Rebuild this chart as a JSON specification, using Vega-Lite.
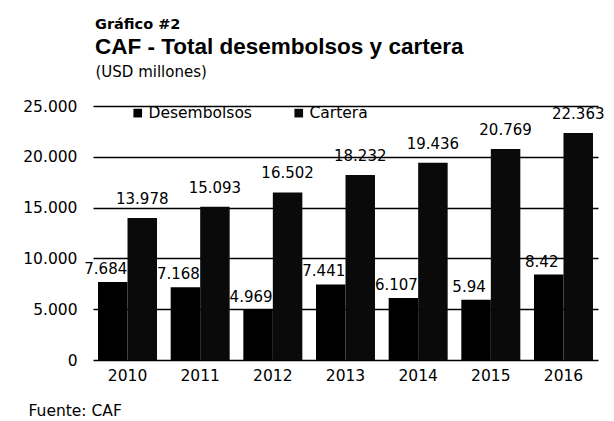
{
  "$schema": "https://vega.github.io/schema/vega-lite/v6.json",
  "width": 505,
  "height": 264,
  "autosize": {"type": "none"},
  "padding": {"left": 93, "top": 96, "right": 16, "bottom": 61},
  "background": "white",
  "title": {
    "text": "Gráfico #2",
    "subtitle": "CAF - Total desembolsos y cartera",
    "anchor": "start",
    "frame": "group",
    "dx": 2,
    "font": "DejaVu Sans",
    "fontSize": 14.5,
    "fontWeight": "bold",
    "color": "black",
    "subtitleFont": "Liberation Sans",
    "subtitleFontSize": 22.5,
    "subtitleFontWeight": "bold",
    "subtitleColor": "black",
    "subtitlePadding": 3,
    "offset": 5
  },
  "data": {
    "values": [
      {"year": "2010", "serie": "Desembolsos", "value": 7684, "label": "7.684"},
      {"year": "2011", "serie": "Desembolsos", "value": 7168, "label": "7.168"},
      {"year": "2012", "serie": "Desembolsos", "value": 4969, "label": "4.969"},
      {"year": "2013", "serie": "Desembolsos", "value": 7441, "label": "7.441"},
      {"year": "2014", "serie": "Desembolsos", "value": 6107, "label": "6.107"},
      {"year": "2015", "serie": "Desembolsos", "value": 5940, "label": "5.94"},
      {"year": "2016", "serie": "Desembolsos", "value": 8420, "label": "8.42"},
      {"year": "2010", "serie": "Cartera", "value": 13978, "label": "13.978"},
      {"year": "2011", "serie": "Cartera", "value": 15093, "label": "15.093"},
      {"year": "2012", "serie": "Cartera", "value": 16502, "label": "16.502"},
      {"year": "2013", "serie": "Cartera", "value": 18232, "label": "18.232"},
      {"year": "2014", "serie": "Cartera", "value": 19436, "label": "19.436"},
      {"year": "2015", "serie": "Cartera", "value": 20769, "label": "20.769"},
      {"year": "2016", "serie": "Cartera", "value": 22363, "label": "22.363"}
    ]
  },
  "encoding": {
    "x": {
      "field": "year", "type": "nominal",
      "scale": {"paddingInner": 0.188, "paddingOuter": 0.069},
      "axis": {
        "title": "Fuente: CAF",
        "titleAnchor": "start", "titleAlign": "left", "titleBaseline": "middle",
        "titleX": -65, "titleY": 50,
        "titleFont": "DejaVu Sans", "titleFontSize": 15.5, "titleFontWeight": "normal", "titleColor": "black",
        "labelAngle": 0, "labelFont": "DejaVu Sans", "labelFontSize": 15.5, "labelColor": "black",
        "labelPadding": 15, "labelBaseline": "middle", "ticks": false, "domain": false
      }
    },
    "xOffset": {"field": "serie", "type": "nominal", "sort": ["Desembolsos", "Cartera"]}
  },
  "layer": [
    {
      "mark": {"type": "bar"},
      "encoding": {
        "y": {
          "field": "value", "type": "quantitative",
          "scale": {"domain": [0, 25000]},
          "axis": {
            "values": [0, 5000, 10000, 15000, 20000, 25000],
            "labelExpr": "replace(format(datum.value, ','), ',', '.')",
            "title": "(USD millones)",
            "titleAngle": 0, "titleAlign": "left", "titleAnchor": "start", "titleBaseline": "middle",
            "titleX": 2, "titleY": -25,
            "titleFont": "DejaVu Sans", "titleFontSize": 15, "titleFontWeight": "normal", "titleColor": "black",
            "labelFont": "DejaVu Sans", "labelFontSize": 15.5, "labelColor": "black", "labelPadding": 16,
            "grid": true, "gridColor": "black", "gridWidth": 1.6, "gridOpacity": 1,
            "ticks": false, "domain": false
          }
        },
        "color": {
          "field": "serie", "type": "nominal",
          "sort": ["Desembolsos", "Cartera"],
          "scale": {"domain": ["Desembolsos", "Cartera"], "range": ["#000000", "#0a0a0a"]},
          "legend": {
            "title": null, "orient": "none", "direction": "horizontal",
            "legendX": 37, "legendY": 9,
            "symbolType": "square", "symbolSize": 75, "symbolStrokeWidth": 0,
            "labelFont": "DejaVu Sans", "labelFontSize": 15.5, "labelColor": "black",
            "columnPadding": 39, "symbolOffset": 0, "labelOffset": 3, "padding": 0
          }
        }
      }
    },
    {
      "mark": {"type": "text", "font": "DejaVu Sans", "fontSize": 15, "color": "black", "dy": -5, "baseline": "bottom", "dx": -7},
      "transform": [{"filter": "datum.serie == 'Desembolsos'"}],
      "encoding": {
        "y": {"field": "value", "type": "quantitative"},
        "text": {"field": "label"}
      }
    },
    {
      "mark": {"type": "text", "font": "DejaVu Sans", "fontSize": 15, "color": "black", "dy": -11, "baseline": "bottom"},
      "transform": [{"filter": "datum.serie == 'Cartera'"}],
      "encoding": {
        "y": {"field": "value", "type": "quantitative"},
        "text": {"field": "label"}
      }
    }
  ],
  "config": {"view": {"stroke": null}}
}
